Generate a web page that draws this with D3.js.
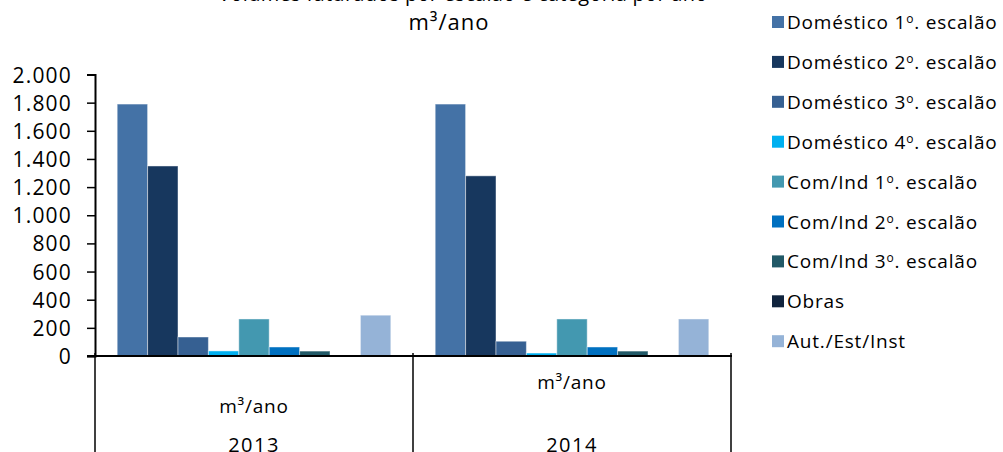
<!DOCTYPE html>
<html>
<head>
<meta charset="utf-8">
<script src="https://cdn.jsdelivr.net/npm/d3@7"></script>
<style>
  body { margin: 0; background: #fff; }
  text { font-family: "Open Sans", "Noto Sans", sans-serif; fill: #000; }
</style>
</head>
<body>
<script>
//chart data
var years = ["2013", "2014"];
var unitLabel = "m³/ano";
var seriesNames = [
    "Doméstico 1º. escalão",
    "Doméstico 2º. escalão",
    "Doméstico 3º. escalão",
    "Doméstico 4º. escalão",
    "Com/Ind 1º. escalão",
    "Com/Ind 2º. escalão",
    "Com/Ind 3º. escalão",
    "Obras",
    "Aut./Est/Inst"
];
var values2013 = [1790, 1350, 135, 36, 263, 64, 35, 0, 290];
var values2014 = [1790, 1280, 105, 21, 263, 64, 35, 0, 263];
var yTicks = [0, 200, 400, 600, 800, 1000, 1200, 1400, 1600, 1800, 2000];
var colors = ["#4472a6", "#17375e", "#366092", "#00b0f0", "#4398b0",
              "#0070c0", "#215967", "#10243e", "#95b3d7"];

window.onload = function(){

    var w = 1003,
        h = 452;

    var svg = d3.select("body")
        .append("svg")
        .attr("width", w)
        .attr("height", h);

    //build rows for the bars
    var table = years.map(function(y, i){
        return { year: y, values: [values2013, values2014][i] };
    });

    //scales
    var x0 = d3.scaleBand()
        .domain(years)
        .range([95, 731]);

    var x1 = d3.scaleBand()
        .domain(d3.range(seriesNames.length))
        .range([0, x0.bandwidth()])
        .paddingOuter(0.73);

    var y = d3.scaleLinear()
        .domain([0, 2000])
        .range([356, 74.5]);

    var locale = d3.formatLocale({ decimal: ",", thousands: ".", grouping: [3], currency: ["", "€"] });
    var fmt = locale.format(",");

    //title, top line is cut by the frame
    svg.append("text")
        .attr("x", 463)
        .attr("y", 1)
        .attr("text-anchor", "middle")
        .style("font-size", "20px")
        .style("letter-spacing", "0.3px")
        .text("Volumes faturados por escalão e categoria por ano");

    svg.append("text")
        .attr("x", 449)
        .attr("y", 30)
        .attr("text-anchor", "middle")
        .style("font-size", "22px")
        .style("letter-spacing", "1px")
        .text(unitLabel);

    //bars
    var groups = svg.selectAll(".year")
        .data(table)
        .enter()
        .append("g")
        .attr("class", "year")
        .attr("transform", function(d){ return "translate(" + x0(d.year) + ",0)"; });

    groups.selectAll("rect")
        .data(function(d){ return d.values; })
        .enter()
        .append("rect")
        .attr("x", function(d, i){ return x1(i); })
        .attr("width", x1.bandwidth())
        .attr("y", function(d){ return y(d); })
        .attr("height", function(d){ return y(0) - y(d); })
        .style("fill", function(d, i){ return colors[i]; })
        .style("stroke", function(d){ return d > 0 ? "rgba(255,255,255,0.45)" : "none"; })
        .style("stroke-width", 1);

    //y axis
    var yAxis = d3.axisLeft(y)
        .tickValues(yTicks)
        .tickFormat(fmt)
        .tickSize(8)
        .tickSizeOuter(8)
        .tickPadding(15);

    var ya = svg.append("g")
        .attr("transform", "translate(95,0)")
        .call(yAxis);
    ya.select(".domain").style("stroke", "#000").style("stroke-width", 2);
    ya.selectAll(".tick line").style("stroke", "#000").style("stroke-width", 1.5);
    ya.selectAll("text")
        .style("font-size", "21px")
        .style("letter-spacing", "1.2px")
        .style("font-family", "'Open Sans', sans-serif")
        .attr("dy", "0.36em");

    //category axis: baseline and separators
    svg.append("line")
        .attr("x1", 87).attr("x2", 732)
        .attr("y1", y(0)).attr("y2", y(0))
        .style("stroke", "#000").style("stroke-width", 2);

    var seps = [x0.range()[0]].concat(years.map(function(d){ return x0(d) + x0.bandwidth(); }));
    svg.selectAll(".sep")
        .data(seps)
        .enter()
        .append("line")
        .attr("class", "sep")
        .attr("x1", function(d){ return d; })
        .attr("x2", function(d){ return d; })
        .attr("y1", y(0) - 3)
        .attr("y2", h)
        .style("stroke", "#000")
        .style("stroke-width", 1.5);

    //unit labels sit at different heights in the source
    var unitY = [413, 389];
    svg.selectAll(".unit")
        .data(years)
        .enter()
        .append("text")
        .attr("class", "unit")
        .attr("x", function(d){ return x0(d) + x0.bandwidth() / 2; })
        .attr("y", function(d, i){ return unitY[i]; })
        .attr("text-anchor", "middle")
        .style("font-size", "19px")
        .style("letter-spacing", "0.8px")
        .text(unitLabel);

    svg.selectAll(".yr")
        .data(years)
        .enter()
        .append("text")
        .attr("class", "yr")
        .attr("x", function(d){ return x0(d) + x0.bandwidth() / 2; })
        .attr("y", 452)
        .attr("text-anchor", "middle")
        .style("font-size", "20px")
        .style("letter-spacing", "1.5px")
        .text(function(d){ return d; });

    //legend
    var legend = svg.selectAll(".legend")
        .data(seriesNames)
        .enter()
        .append("g")
        .attr("class", "legend")
        .attr("transform", function(d, i){ return "translate(772," + (22 + i * 39.9) + ")"; });

    legend.append("rect")
        .attr("x", 0)
        .attr("y", -6)
        .attr("width", 12)
        .attr("height", 12)
        .style("fill", function(d, i){ return colors[i]; });

    var lt = legend.append("text")
        .attr("x", 15)
        .attr("y", 7)
        .style("font-size", "19px")
        .style("letter-spacing", "0.8px");

    //ordinal marker drawn as a small raised "o"
    lt.each(function(d){
        var t = d3.select(this);
        var parts = d.split("º");
        t.append("tspan").text(parts[0]);
        if (parts.length > 1) {
            t.append("tspan").attr("dy", -6).style("font-size", "12px").text("o");
            t.append("tspan").attr("dy", 6).text(parts[1]);
        }
    });
};
</script>
</body>
</html>
